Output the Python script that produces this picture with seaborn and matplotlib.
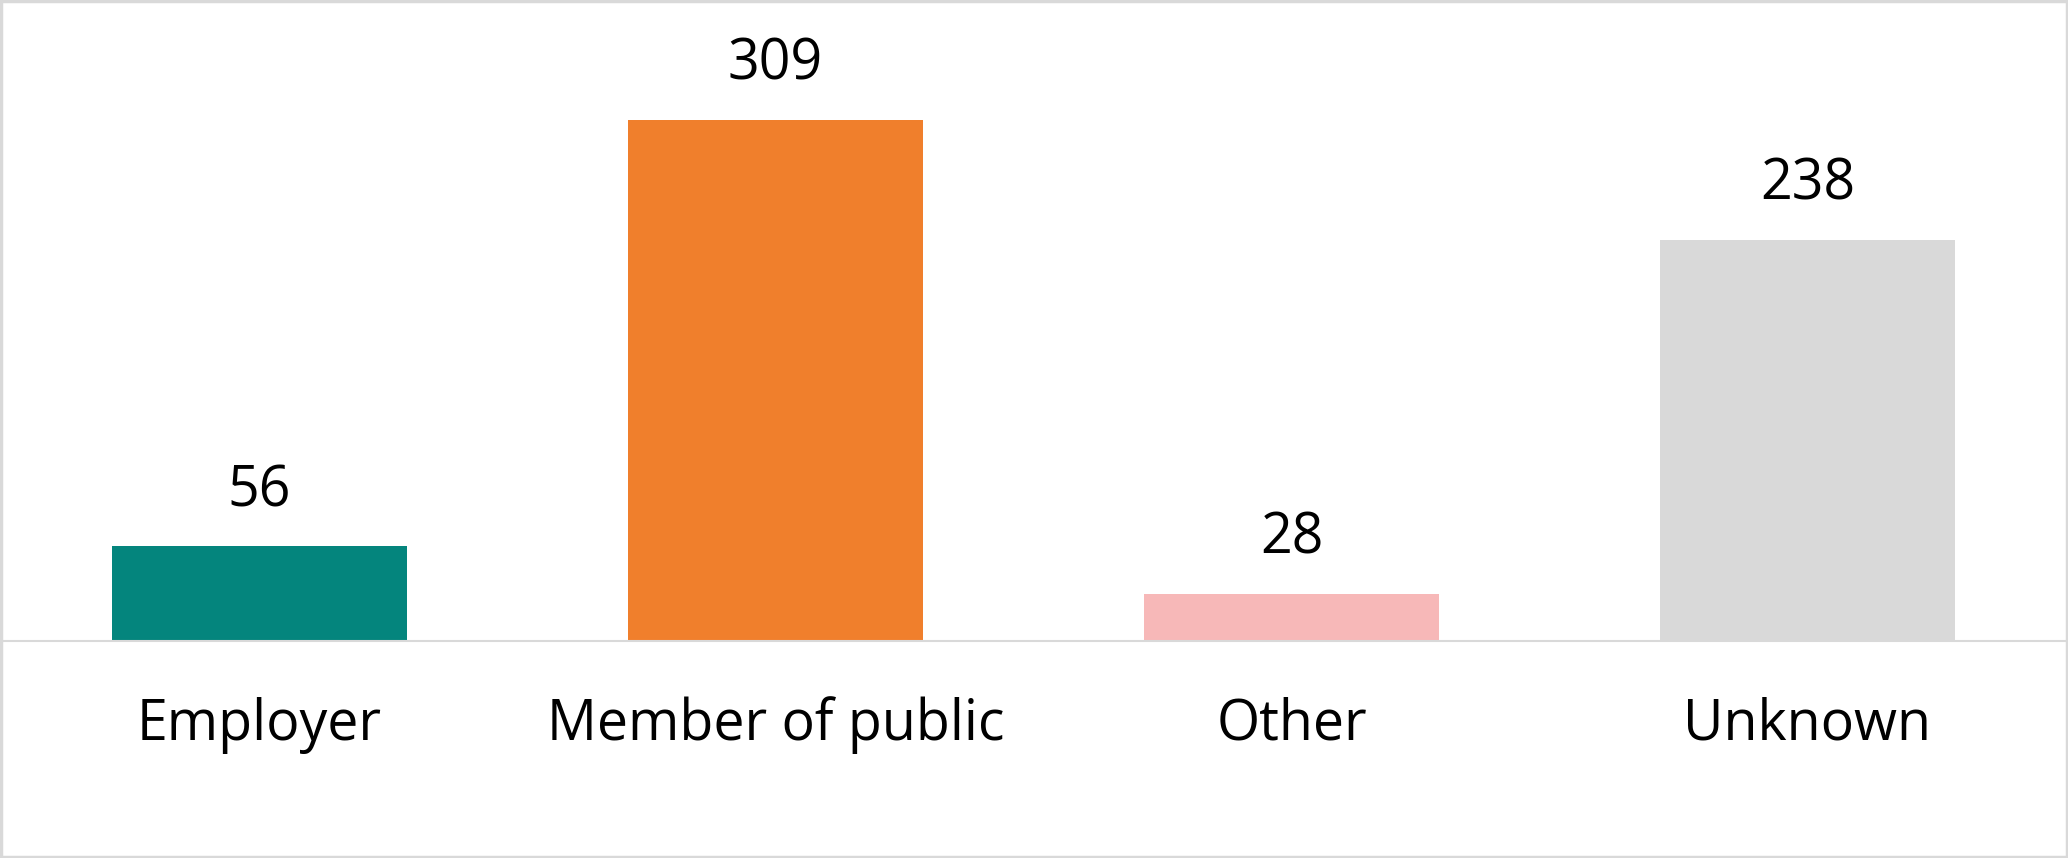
import matplotlib
matplotlib.use("Agg")
import matplotlib.pyplot as plt
import seaborn as sns
import pandas as pd
from matplotlib.patches import Rectangle

categories = ["Employer", "Member of public", "Other", "Unknown"]
values = [56, 309, 28, 238]
colors = ["#04857D", "#F07F2C", "#F7B8B8", "#D9D9D9"]

sns.set_theme(style="white")
plt.rcParams["font.family"] = ["Open Sans", "DejaVu Sans"]

df = pd.DataFrame({"category": categories, "value": values})

fig = plt.figure(figsize=(20.68, 8.58), dpi=100)
ax = fig.add_axes([0.0, 0.253, 1.0, 0.737])

sns.barplot(data=df, x="category", y="value", hue="category", palette=colors,
            order=categories, hue_order=categories, width=0.572, legend=False,
            saturation=1, ax=ax, edgecolor="none")

ax.set_xlim(-0.503, 3.505)
ax.set_ylim(0, 375)
ax.set_xlabel("")
ax.set_ylabel("")
ax.set_yticks([])
for s in ["top", "left", "right"]:
    ax.spines[s].set_visible(False)
ax.spines["bottom"].set_color("#D9D9D9")
ax.spines["bottom"].set_linewidth(1.5)
ax.set_facecolor("white")

ax.tick_params(axis="x", length=0, pad=71, labelsize=40, labelcolor="black")
for lbl in ax.get_xticklabels():
    lbl.set_verticalalignment("baseline")

for i, v in enumerate(values):
    ax.annotate(str(v), xy=(i, v), xytext=(0, 28.8), textcoords="offset points",
                ha="center", va="baseline", fontsize=40, color="black")

fig.patches.append(Rectangle((0.0007, 0.0017), 0.9986, 0.9966, transform=fig.transFigure,
                             fill=False, edgecolor="#D9D9D9", linewidth=2.5, zorder=10))

fig.savefig("out.png", dpi=100, facecolor="white")
